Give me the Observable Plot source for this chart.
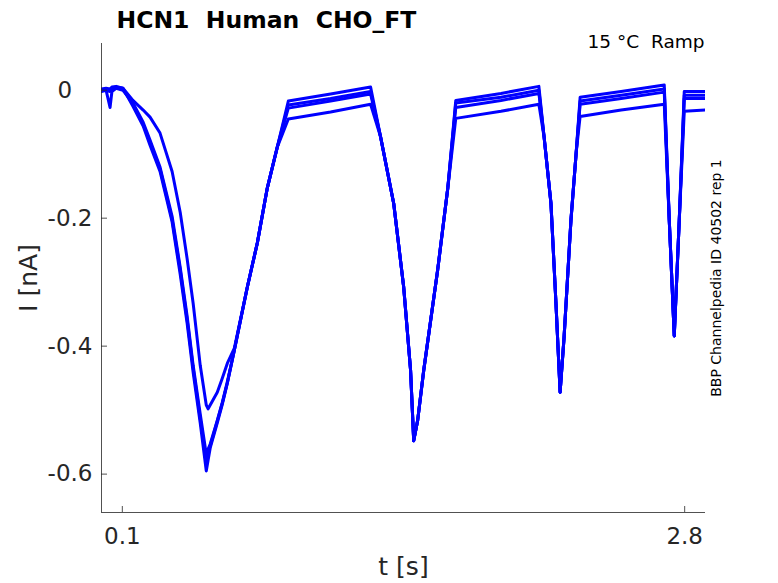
<!DOCTYPE html>
<html>
<head>
<meta charset="utf-8">
<script src="https://cdn.jsdelivr.net/npm/d3@7"></script>
<script src="https://cdn.jsdelivr.net/npm/@observablehq/plot@0.6"></script>
<style>
  body { margin: 0; background: #fff; }
  #chart svg { display: block; font-family: "DejaVu Sans", sans-serif; }
</style>
</head>
<body>
<div id="chart"></div>
<script>
// Titles and labels
const title = "HCN1\u00a0 Human\u00a0 CHO_FT";
const condition = "15 \u00b0C\u00a0 Ramp";
const sideNote = "BBP Channelpedia ID 40502 rep 1";
const xLabel = "t [s]";
const yLabel = "I [nA]";

// Axis ticks
const xTicks = [0.1, 2.8];
const yTicks = [0, -0.2, -0.4, -0.6];
const xDomain = [0, 2.9];
const yDomain = [-0.66, 0.073];

// Sample times (s) shared by all sweeps
const time = [
  0.000, 0.022, 0.041, 0.050, 0.070, 0.103, 0.151, 0.200, 0.233, 0.281,
  0.339, 0.378, 0.411, 0.440, 0.474, 0.503, 0.512, 0.522, 0.556, 0.580,
  0.604, 0.638, 0.700, 0.748, 0.796, 0.844, 0.897, 1.100, 1.292, 1.340,
  1.403, 1.451, 1.484, 1.499, 1.518, 1.547, 1.614, 1.663, 1.701, 1.918,
  2.100, 2.125, 2.158, 2.182, 2.202, 2.221, 2.254, 2.279, 2.298, 2.495,
  2.702, 2.726, 2.750, 2.774, 2.798, 2.900
];

// Current (nA) of each sweep
const sweep1 = [
  0.002, 0.003, 0.002, 0.005, 0.006, 0.003, -0.025, -0.056, -0.086, -0.127,
  -0.206, -0.288, -0.364, -0.441, -0.520, -0.595, -0.578, -0.559, -0.520, -0.491,
  -0.458, -0.406, -0.308, -0.239, -0.153, -0.089, -0.017, -0.006, 0.005, -0.073,
  -0.177, -0.308, -0.438, -0.548, -0.516, -0.438, -0.281, -0.152, -0.016, -0.005,
  0.006, -0.073, -0.177, -0.333, -0.472, -0.386, -0.203, -0.098, -0.011, -0.002,
  0.008, -0.203, -0.384, -0.203, -0.002, -0.002
];
const sweep2 = [
  0.000, 0.000, -0.027, -0.002, 0.003, 0.002, -0.022, -0.053, -0.081, -0.123,
  -0.202, -0.281, -0.358, -0.434, -0.513, -0.578, -0.567, -0.556, -0.517, -0.489,
  -0.458, -0.406, -0.308, -0.239, -0.153, -0.089, -0.023, -0.013, -0.002, -0.073,
  -0.177, -0.308, -0.438, -0.548, -0.516, -0.438, -0.281, -0.152, -0.020, -0.011,
  0.000, -0.073, -0.177, -0.333, -0.472, -0.386, -0.203, -0.098, -0.017, -0.008,
  0.002, -0.203, -0.384, -0.203, -0.008, -0.008
];
const sweep3 = [
  -0.002, 0.000, -0.002, 0.002, 0.003, 0.000, -0.020, -0.050, -0.078, -0.120,
  -0.197, -0.277, -0.353, -0.430, -0.506, -0.569, -0.561, -0.553, -0.516, -0.488,
  -0.456, -0.406, -0.308, -0.239, -0.153, -0.089, -0.028, -0.017, -0.006, -0.073,
  -0.177, -0.308, -0.438, -0.548, -0.516, -0.438, -0.281, -0.152, -0.027, -0.016,
  -0.005, -0.073, -0.177, -0.333, -0.472, -0.386, -0.203, -0.098, -0.022, -0.013,
  -0.003, -0.203, -0.384, -0.203, -0.013, -0.013
];
const sweep4 = [
  0.000, 0.002, 0.000, 0.003, 0.005, 0.003, -0.016, -0.031, -0.042, -0.067,
  -0.127, -0.191, -0.263, -0.333, -0.430, -0.492, -0.498, -0.492, -0.472, -0.450,
  -0.427, -0.403, -0.308, -0.239, -0.153, -0.089, -0.045, -0.034, -0.022, -0.073,
  -0.177, -0.308, -0.438, -0.548, -0.516, -0.438, -0.281, -0.152, -0.044, -0.033,
  -0.022, -0.073, -0.177, -0.333, -0.472, -0.386, -0.203, -0.098, -0.041, -0.031,
  -0.022, -0.203, -0.384, -0.203, -0.033, -0.031
];
const sweeps = [sweep1, sweep2, sweep3, sweep4];

const rows = sweeps.flatMap((s, k) => s.map((v, i) => ({sweep: k, t: time[i], I: v})));

const axisColor = "#262626";
const fmtY = d => d === 0 ? "0\u2007\u2005" : String(d);

const chart = Plot.plot({
  width: 778,
  height: 583,
  marginLeft: 101,
  marginRight: 73,
  marginTop: 43,
  marginBottom: 71,
  style: {fontFamily: "DejaVu Sans, sans-serif", background: "#fff"},
  x: {domain: xDomain},
  y: {domain: yDomain},
  marks: [
    Plot.line(rows, {x: "t", y: "I", z: "sweep", stroke: "#0000ff", strokeWidth: 3, curve: "linear", clip: true}),
    Plot.ruleX([xDomain[0]], {stroke: axisColor, strokeWidth: 1, strokeOpacity: 0.8}),
    Plot.ruleY([yDomain[0]], {stroke: axisColor, strokeWidth: 1, strokeOpacity: 0.8}),
    Plot.axisY({ticks: yTicks, tickSize: -6, tickPadding: 15, tickFormat: fmtY, fontSize: 23, color: axisColor, label: null, strokeOpacity: 0.8}),
    Plot.axisX({ticks: xTicks, tickSize: -6, tickPadding: 21, tickFormat: d => String(d), fontSize: 23, color: axisColor, label: null, strokeOpacity: 0.8}),
    Plot.text([title], {text: d => d, frameAnchor: "top-left", textAnchor: "start", lineAnchor: "bottom", dx: 15, dy: -16, fontSize: 23.5, fontWeight: "bold", fill: "#000"}),
    Plot.text([condition], {text: d => d, frameAnchor: "top-right", textAnchor: "end", lineAnchor: "bottom", dx: -1, dy: 4, fontSize: 18.5, fill: "#000"}),
    Plot.text([sideNote], {text: d => d, frameAnchor: "right", textAnchor: "middle", lineAnchor: "bottom", rotate: -90, dx: 15, fontSize: 14, fill: "#000"}),
    Plot.text([xLabel], {text: d => d, frameAnchor: "bottom", textAnchor: "middle", lineAnchor: "bottom", dy: 62, fontSize: 25, fill: axisColor}),
    Plot.text([yLabel], {text: d => d, frameAnchor: "left", textAnchor: "middle", lineAnchor: "bottom", rotate: -90, dx: -65, fontSize: 25, fill: axisColor})
  ]
});
document.getElementById("chart").appendChild(chart);
</script>
</body>
</html>
